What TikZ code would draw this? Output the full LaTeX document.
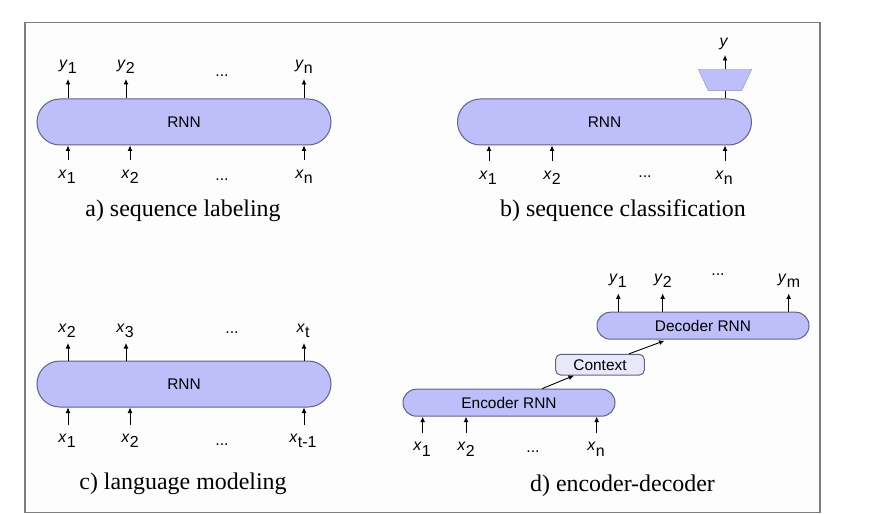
\documentclass[tikz,border=0pt]{standalone}
\usepackage{fontspec}
\setmainfont{Liberation Serif}
\setsansfont{Liberation Sans}
\usepackage{xcolor}
\usetikzlibrary{arrows.meta}

\definecolor{rnnfill}{RGB}{190,191,250}
\definecolor{rnnline}{RGB}{98,98,132}
\definecolor{ctxfill}{RGB}{232,232,250}
\definecolor{framegray}{RGB}{125,125,125}
\definecolor{bgfill}{RGB}{253,253,253}

\newcommand{\lbl}[2]{\textit{#1}\raisebox{-5.5bp}{#2}}

\tikzset{
    rnn/.style={draw=rnnline, fill=rnnfill, line width=1bp, rounded corners=#1, inner sep=0pt,
        font=\sffamily\fontsize{15.5}{18}\selectfont},
    lab/.style={inner sep=0pt, font=\sffamily\fontsize{16}{18}\selectfont},
    arr/.style={-{Latex[length=5.5bp,width=5bp]}, line width=0.9bp, black},
    captxt/.style={inner sep=0pt, font=\fontsize{24}{27}\selectfont}
}

\begin{document}
\begin{tikzpicture}[x=1bp, y=-1bp]

    \useasboundingbox (0,0) rectangle (869,514);

    % Frame round the four panels

    \draw[framegray, line width=1.5bp, fill=bgfill] (25,22.5) rectangle (820,512.5);

    % a) sequence labeling

    \node[rnn=22.9bp, minimum width=294bp, minimum height=46bp] (rnnA) at (184,122) {RNN};

    \coordinate (ya1t) at (68,79);
    \coordinate (ya2t) at (126,79);
    \coordinate (yant) at (304,79);

    \node[lab] (ya1) at (68,67) {\lbl{y}{1}};
    \node[lab] (ya2) at (126,67) {\lbl{y}{2}};
    \node[lab] (dotsAt) at (222,76) {...};
    \node[lab] (yan) at (304,67) {\lbl{y}{n}};

    \coordinate (xa1b) at (68,160);
    \coordinate (xa2b) at (130,160);
    \coordinate (xanb) at (304,160);

    \node[lab] (xa1) at (67,177) {\lbl{x}{1}};
    \node[lab] (xa2) at (130,177) {\lbl{x}{2}};
    \node[lab] (dotsAb) at (222,180) {...};
    \node[lab] (xan) at (304,177) {\lbl{x}{n}};

    \node[captxt] (capA) at (183,211) {a) sequence labeling};

    % b) sequence classification

    \node[rnn=22.9bp, minimum width=294bp, minimum height=46bp] (rnnB) at (604.5,122) {RNN};

    \coordinate (trapB) at (725,90.7);
    \coordinate (trapT) at (725,69.3);
    \filldraw[fill=rnnfill, draw=rnnfill!75!black, line width=0.4bp] (698.3,69.3) -- (751.7,69.3) -- (741.7,90.7) -- (708.3,90.7) -- cycle;

    \coordinate (ybt) at (725,55);
    \node[lab] (yb) at (724,44) {\textit{y}};

    \coordinate (xb1b) at (489,161);
    \coordinate (xb2b) at (552,161);
    \coordinate (xbnb) at (725,161);

    \node[lab] (xb1) at (488,178) {\lbl{x}{1}};
    \node[lab] (xb2) at (552,178) {\lbl{x}{2}};
    \node[lab] (dotsB) at (645,177) {...};
    \node[lab] (xbn) at (724,178) {\lbl{x}{n}};

    \node[captxt] (capB) at (623,211) {b) sequence classification};

    % c) language modeling

    \node[rnn=22.9bp, minimum width=294bp, minimum height=46bp] (rnnC) at (184,384) {RNN};

    \coordinate (xc2t) at (68,343);
    \coordinate (xc3t) at (126,343);
    \coordinate (xctt) at (304,343);

    \node[lab] (xc2) at (67,331) {\lbl{x}{2}};
    \node[lab] (xc3) at (125,331) {\lbl{x}{3}};
    \node[lab] (dotsCt) at (232,333) {...};
    \node[lab] (xct) at (303,331) {\lbl{x}{t}};

    \coordinate (xc1b) at (68,425);
    \coordinate (xc2b) at (130,425);
    \coordinate (xcmb) at (304,425);

    \node[lab] (xc1) at (67,441) {\lbl{x}{1}};
    \node[lab] (xc2l) at (130,441) {\lbl{x}{2}};
    \node[lab] (dotsCb) at (222,445) {...};
    \node[lab] (xcm) at (303,441) {\lbl{x}{t-1}};

    \node[captxt] (capC) at (183,484) {c) language modeling};

    % d) encoder-decoder

    \node[rnn=13.4bp, minimum width=212bp, minimum height=27bp] (enc) at (509,402.7) {Encoder RNN};
    \node[rnn=5bp, fill=ctxfill, minimum width=88.6bp, minimum height=20.7bp] (ctx) at (600,364.7) {Context};
    \node[rnn=13.4bp, minimum width=212bp, minimum height=27bp] (dec) at (703,325.7) {Decoder RNN};

    \coordinate (yd1t) at (618.3,293.5);
    \coordinate (yd2t) at (662.7,293.5);
    \coordinate (ydmt) at (788.7,293.5);

    \node[lab] (yd1) at (618,281) {\lbl{y}{1}};
    \node[lab] (yd2) at (663,281) {\lbl{y}{2}};
    \node[lab] (dotsDt) at (718,275) {...};
    \node[lab] (ydm) at (789,281) {\lbl{y}{m}};

    \coordinate (xd1b) at (422.7,433.3);
    \coordinate (xd2b) at (466,433.3);
    \coordinate (xdnb) at (596.7,433.3);

    \node[lab] (xd1) at (422,449.5) {\lbl{x}{1}};
    \node[lab] (xd2) at (466,449.5) {\lbl{x}{2}};
    \node[lab] (dotsDb) at (533,452) {...};
    \node[lab] (xdn) at (596,449.5) {\lbl{x}{n}};

    \node[captxt] (capD) at (622.5,486) {d) encoder-decoder};

    % connections

    \draw[arr] (rnnA.north -| ya1t) -- (ya1t);
    \draw[arr] (rnnA.north -| ya2t) -- (ya2t);
    \draw[arr] (rnnA.north -| yant) -- (yant);
    \draw[arr] (xa1b) -- (rnnA.south -| xa1b);
    \draw[arr] (xa2b) -- (rnnA.south -| xa2b);
    \draw[arr] (xanb) -- (rnnA.south -| xanb);

    \draw[line width=0.9bp] (rnnB.north -| trapB) -- (trapB);
    \draw[arr] (trapT) -- (ybt);
    \draw[arr] (xb1b) -- (rnnB.south -| xb1b);
    \draw[arr] (xb2b) -- (rnnB.south -| xb2b);
    \draw[arr] (xbnb) -- (rnnB.south -| xbnb);

    \draw[arr] (rnnC.north -| xc2t) -- (xc2t);
    \draw[arr] (rnnC.north -| xc3t) -- (xc3t);
    \draw[arr] (rnnC.north -| xctt) -- (xctt);
    \draw[arr] (xc1b) -- (rnnC.south -| xc1b);
    \draw[arr] (xc2b) -- (rnnC.south -| xc2b);
    \draw[arr] (xcmb) -- (rnnC.south -| xcmb);

    \draw[arr] ([xshift=33bp]enc.north) -- ([xshift=-26bp]ctx.south);
    \draw[arr] ([xshift=29bp]ctx.north) -- ([xshift=-38.5bp, yshift=-1bp]dec.south);
    \draw[arr] (dec.north -| yd1t) -- (yd1t);
    \draw[arr] (dec.north -| yd2t) -- (yd2t);
    \draw[arr] (dec.north -| ydmt) -- (ydmt);
    \draw[arr] (xd1b) -- (enc.south -| xd1b);
    \draw[arr] (xd2b) -- (enc.south -| xd2b);
    \draw[arr] (xdnb) -- (enc.south -| xdnb);

\end{tikzpicture}
\end{document}
